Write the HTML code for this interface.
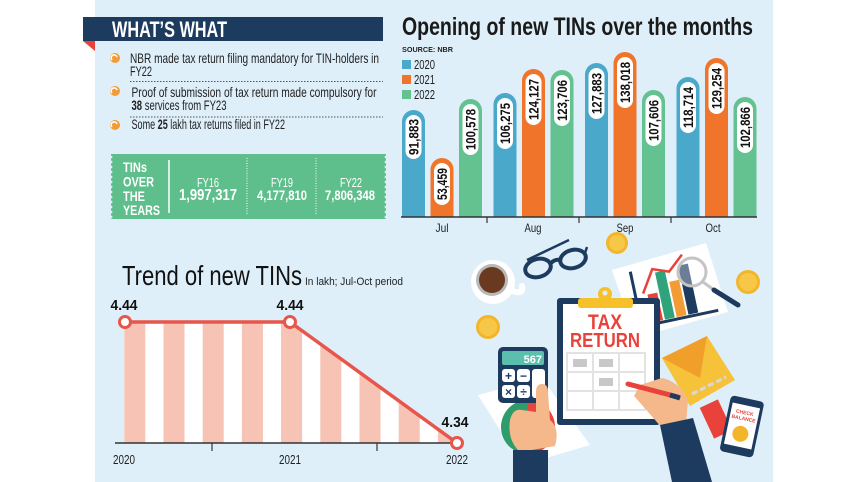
<!DOCTYPE html>
<html><head><meta charset="utf-8"><style>
html,body{margin:0;padding:0;background:#fff;}
svg{display:block;}
text{font-family:"Liberation Sans",sans-serif;}
</style></head><body>
<svg width="857" height="482" viewBox="0 0 857 482" xmlns="http://www.w3.org/2000/svg">
<rect x="0" y="0" width="857" height="482" fill="#fff"/>
<rect x="95" y="0" width="678" height="482" fill="#dfeffa"/>

<!-- WHAT'S WHAT header -->
<rect x="83" y="17" width="300" height="24" fill="#1d3a5f"/>
<polygon points="83,41 95,41 95,51" fill="#e8423b"/>
<text x="112" y="37" font-size="22" font-weight="bold" fill="#fff" textLength="115" lengthAdjust="spacingAndGlyphs">WHAT’S WHAT</text>

<!-- bullets -->
<g fill="#f39c34">
<circle cx="115" cy="58" r="5"/><circle cx="115" cy="91" r="5"/><circle cx="115" cy="125" r="5"/>
</g>
<g stroke="#fff" stroke-width="1.5" fill="none">
<path d="M112,60 a3,3 0 1 1 5,-3"/><path d="M112,93 a3,3 0 1 1 5,-3"/><path d="M112,127 a3,3 0 1 1 5,-3"/>
</g>
<g font-size="14" fill="#222">
<text x="130" y="63" textLength="249" lengthAdjust="spacingAndGlyphs">NBR made tax return filing mandatory for TIN-holders in</text>
<text x="130" y="76" textLength="22" lengthAdjust="spacingAndGlyphs">FY22</text>
<text x="131.5" y="97" textLength="245" lengthAdjust="spacingAndGlyphs">Proof of submission of tax return made compulsory for</text>
<text x="131.5" y="110" textLength="95" lengthAdjust="spacingAndGlyphs"><tspan font-weight="bold">38</tspan> services from FY23</text>
<text x="131.5" y="129" textLength="153.5" lengthAdjust="spacingAndGlyphs">Some <tspan font-weight="bold">25</tspan> lakh tax returns filed in FY22</text>
</g>
<g stroke="#555" stroke-width="1" stroke-dasharray="1.5,1.5">
<line x1="130" y1="81.5" x2="383" y2="81.5"/>
<line x1="130" y1="117" x2="383" y2="117"/>
</g>

<!-- TINs over the years box -->
<rect x="111" y="154" width="275" height="65" fill="#5fbf8c"/>
<g fill="#dfeffa">
<circle cx="111" cy="157" r="1.4"/><circle cx="111" cy="162" r="1.4"/><circle cx="111" cy="167" r="1.4"/><circle cx="111" cy="172" r="1.4"/><circle cx="111" cy="177" r="1.4"/><circle cx="111" cy="182" r="1.4"/><circle cx="111" cy="187" r="1.4"/><circle cx="111" cy="192" r="1.4"/><circle cx="111" cy="197" r="1.4"/><circle cx="111" cy="202" r="1.4"/><circle cx="111" cy="207" r="1.4"/><circle cx="111" cy="212" r="1.4"/><circle cx="111" cy="217" r="1.4"/>
<circle cx="386" cy="157" r="1.4"/><circle cx="386" cy="162" r="1.4"/><circle cx="386" cy="167" r="1.4"/><circle cx="386" cy="172" r="1.4"/><circle cx="386" cy="177" r="1.4"/><circle cx="386" cy="182" r="1.4"/><circle cx="386" cy="187" r="1.4"/><circle cx="386" cy="192" r="1.4"/><circle cx="386" cy="197" r="1.4"/><circle cx="386" cy="202" r="1.4"/><circle cx="386" cy="207" r="1.4"/><circle cx="386" cy="212" r="1.4"/><circle cx="386" cy="217" r="1.4"/>
</g>
<g font-size="13.5" font-weight="bold" fill="#fff">
<text x="123" y="172" textLength="24" lengthAdjust="spacingAndGlyphs">TINs</text>
<text x="123" y="186.5" textLength="31" lengthAdjust="spacingAndGlyphs">OVER</text>
<text x="123" y="201" textLength="22" lengthAdjust="spacingAndGlyphs">THE</text>
<text x="123" y="215" textLength="37" lengthAdjust="spacingAndGlyphs">YEARS</text>
</g>
<line x1="169" y1="160" x2="169" y2="213" stroke="#fff" stroke-width="1.5"/>
<g stroke="#fff" stroke-width="1" stroke-dasharray="1,1.5">
<line x1="247" y1="158" x2="247" y2="215"/><line x1="316" y1="158" x2="316" y2="215"/>
</g>
<g fill="#fff" text-anchor="middle">
<text x="208" y="187" font-size="13" textLength="22" lengthAdjust="spacingAndGlyphs">FY16</text>
<text x="282" y="187" font-size="13" textLength="22" lengthAdjust="spacingAndGlyphs">FY19</text>
<text x="351" y="187" font-size="13" textLength="22" lengthAdjust="spacingAndGlyphs">FY22</text>
<text x="208" y="200" font-size="16" font-weight="bold" textLength="58" lengthAdjust="spacingAndGlyphs">1,997,317</text>
<text x="282" y="200" font-size="14" font-weight="bold" textLength="50" lengthAdjust="spacingAndGlyphs">4,177,810</text>
<text x="350" y="200" font-size="14" font-weight="bold" textLength="50" lengthAdjust="spacingAndGlyphs">7,806,348</text>
</g>

<!-- Bar chart title -->
<text x="402" y="35" font-size="25" font-weight="bold" fill="#1a1a1a" textLength="351" lengthAdjust="spacingAndGlyphs">Opening of new TINs over the months</text>
<text x="402" y="52" font-size="7" font-weight="bold" fill="#222" textLength="51" lengthAdjust="spacingAndGlyphs">SOURCE: NBR</text>
<rect x="402" y="60" width="9" height="9" fill="#4aa9cb"/>
<rect x="402" y="75" width="9" height="9" fill="#f0752b"/>
<rect x="402" y="90" width="9" height="9" fill="#63c28f"/>
<g font-size="13" fill="#222">
<text x="414" y="69" textLength="21" lengthAdjust="spacingAndGlyphs">2020</text>
<text x="414" y="84" textLength="21" lengthAdjust="spacingAndGlyphs">2021</text>
<text x="414" y="99" textLength="21" lengthAdjust="spacingAndGlyphs">2022</text>
</g>

<!-- Bars -->
<g>
<path d="M402,217 V121.5 A11.5,11.5 0 0 1 425,121.5 V217 Z" fill="#4aa9cb"/>
<path d="M430.5,217 V169.5 A11.5,11.5 0 0 1 453.5,169.5 V217 Z" fill="#f0752b"/>
<path d="M459,217 V110.5 A11.5,11.5 0 0 1 482,110.5 V217 Z" fill="#63c28f"/>
<path d="M493.5,217 V104.5 A11.5,11.5 0 0 1 516.5,104.5 V217 Z" fill="#4aa9cb"/>
<path d="M522,217 V80.5 A11.5,11.5 0 0 1 545,80.5 V217 Z" fill="#f0752b"/>
<path d="M550.5,217 V81.5 A11.5,11.5 0 0 1 573.5,81.5 V217 Z" fill="#63c28f"/>
<path d="M585,217 V74.5 A11.5,11.5 0 0 1 608,74.5 V217 Z" fill="#4aa9cb"/>
<path d="M613.5,217 V63.5 A11.5,11.5 0 0 1 636.5,63.5 V217 Z" fill="#f0752b"/>
<path d="M642,217 V101.5 A11.5,11.5 0 0 1 665,101.5 V217 Z" fill="#63c28f"/>
<path d="M676.5,217 V88.5 A11.5,11.5 0 0 1 699.5,88.5 V217 Z" fill="#4aa9cb"/>
<path d="M705,217 V69.5 A11.5,11.5 0 0 1 728,69.5 V217 Z" fill="#f0752b"/>
<path d="M733.5,217 V108.5 A11.5,11.5 0 0 1 756.5,108.5 V217 Z" fill="#63c28f"/>
</g>
<g fill="#fff">
<rect x="405.5" y="115" width="16" height="44" rx="8"/>
<rect x="434" y="163" width="16" height="42" rx="8"/>
<rect x="462.5" y="104" width="16" height="51" rx="8"/>
<rect x="497" y="98" width="16" height="51" rx="8"/>
<rect x="525.5" y="74" width="16" height="51" rx="8"/>
<rect x="554" y="75" width="16" height="51" rx="8"/>
<rect x="588.5" y="68" width="16" height="51" rx="8"/>
<rect x="617" y="57" width="16" height="51" rx="8"/>
<rect x="645.5" y="95" width="16" height="51" rx="8"/>
<rect x="680" y="82" width="16" height="51" rx="8"/>
<rect x="708.5" y="63" width="16" height="51" rx="8"/>
<rect x="737" y="102" width="16" height="51" rx="8"/>
</g>
<g font-size="14" font-weight="bold" fill="#111" text-anchor="middle">
<text transform="translate(413.5,137) rotate(-90)" y="5" textLength="36" lengthAdjust="spacingAndGlyphs">91,883</text>
<text transform="translate(442,184) rotate(-90)" y="5" textLength="32" lengthAdjust="spacingAndGlyphs">53,459</text>
<text transform="translate(470.5,129.5) rotate(-90)" y="5" textLength="41" lengthAdjust="spacingAndGlyphs">100,578</text>
<text transform="translate(505,123.5) rotate(-90)" y="5" textLength="41" lengthAdjust="spacingAndGlyphs">106,275</text>
<text transform="translate(533.5,99.5) rotate(-90)" y="5" textLength="41" lengthAdjust="spacingAndGlyphs">124,127</text>
<text transform="translate(562,100.5) rotate(-90)" y="5" textLength="41" lengthAdjust="spacingAndGlyphs">123,706</text>
<text transform="translate(596.5,93.5) rotate(-90)" y="5" textLength="41" lengthAdjust="spacingAndGlyphs">127,883</text>
<text transform="translate(625,82.5) rotate(-90)" y="5" textLength="41" lengthAdjust="spacingAndGlyphs">138,018</text>
<text transform="translate(653.5,120.5) rotate(-90)" y="5" textLength="41" lengthAdjust="spacingAndGlyphs">107,606</text>
<text transform="translate(688,107.5) rotate(-90)" y="5" textLength="41" lengthAdjust="spacingAndGlyphs">118,714</text>
<text transform="translate(716.5,88.5) rotate(-90)" y="5" textLength="41" lengthAdjust="spacingAndGlyphs">129,254</text>
<text transform="translate(745,127.5) rotate(-90)" y="5" textLength="41" lengthAdjust="spacingAndGlyphs">102,866</text>
</g>
<line x1="401" y1="217" x2="757" y2="217" stroke="#333" stroke-width="1.5"/>
<g stroke="#333" stroke-width="1.2">
<line x1="487" y1="217" x2="487" y2="223"/><line x1="579" y1="217" x2="579" y2="223"/><line x1="671" y1="217" x2="671" y2="223"/>
</g>
<g font-size="12" fill="#222" text-anchor="middle">
<text x="442" y="232" textLength="13" lengthAdjust="spacingAndGlyphs">Jul</text>
<text x="533" y="232" textLength="17" lengthAdjust="spacingAndGlyphs">Aug</text>
<text x="625" y="232" textLength="17" lengthAdjust="spacingAndGlyphs">Sep</text>
<text x="713" y="232" textLength="15" lengthAdjust="spacingAndGlyphs">Oct</text>
</g>

<!-- Trend chart -->
<text x="122" y="285" font-size="28" fill="#111" textLength="180" lengthAdjust="spacingAndGlyphs">Trend of new TINs</text>
<text x="305" y="285" font-size="11" fill="#222" textLength="98" lengthAdjust="spacingAndGlyphs">In lakh; Jul-Oct period</text>
<defs><clipPath id="area"><polygon points="124,322 290,322 457,443 124,443"/></clipPath></defs>
<polygon points="124,322 290,322 457,443 124,443" fill="#fff"/>
<g clip-path="url(#area)" fill="#f6c3b4">
<rect x="124.3" y="300" width="21" height="150"/>
<rect x="163.5" y="300" width="21" height="150"/>
<rect x="202.7" y="300" width="21" height="150"/>
<rect x="241.9" y="300" width="21" height="150"/>
<rect x="281.1" y="300" width="21" height="150"/>
<rect x="320.3" y="300" width="21" height="150"/>
<rect x="359.5" y="300" width="21" height="150"/>
<rect x="398.7" y="300" width="21" height="150"/>
<rect x="437.9" y="300" width="21" height="150"/>
</g>
<line x1="115" y1="443" x2="457" y2="443" stroke="#333" stroke-width="1.5"/>
<g stroke="#333" stroke-width="1.2">
<line x1="212" y1="443" x2="212" y2="451"/><line x1="377" y1="443" x2="377" y2="451"/>
</g>
<polyline points="125,322 290,322 457,443" fill="none" stroke="#e8554a" stroke-width="3.5" stroke-linejoin="round"/>
<g fill="#fff" stroke="#e8554a" stroke-width="3">
<circle cx="125" cy="322" r="5.5"/><circle cx="290" cy="322" r="5.5"/><circle cx="457" cy="443" r="5.5"/>
</g>
<g font-size="15" font-weight="bold" fill="#111" text-anchor="middle">
<text x="124" y="310" textLength="27" lengthAdjust="spacingAndGlyphs">4.44</text>
<text x="290" y="310" textLength="27" lengthAdjust="spacingAndGlyphs">4.44</text>
<text x="455" y="427" textLength="27" lengthAdjust="spacingAndGlyphs">4.34</text>
</g>
<g font-size="13" fill="#222" text-anchor="middle">
<text x="124" y="464" textLength="22" lengthAdjust="spacingAndGlyphs">2020</text>
<text x="290" y="464" textLength="22" lengthAdjust="spacingAndGlyphs">2021</text>
<text x="457" y="464" textLength="22" lengthAdjust="spacingAndGlyphs">2022</text>
</g>

<!-- Illustration -->
<!-- coffee -->
<path d="M510,290 q14,6 12,-4" stroke="#fff" stroke-width="6" fill="none" stroke-linecap="round"/>
<circle cx="493" cy="282" r="22" fill="#fff"/>
<circle cx="492" cy="280" r="16" fill="#b8b8b8"/>
<circle cx="492" cy="280" r="13" fill="#6a3a20"/>
<!-- glasses -->
<g stroke="#1d3a5f" stroke-width="4" fill="none">
<ellipse cx="538" cy="268" rx="13" ry="9" transform="rotate(-15 538 268)"/>
<ellipse cx="573" cy="259" rx="13" ry="9" transform="rotate(-15 573 259)"/>
<path d="M551,263 q4,-4 9,-3"/>
</g>
<line x1="527" y1="260" x2="569" y2="240" stroke="#1d3a5f" stroke-width="2.5"/>
<line x1="585" y1="253" x2="587" y2="247" stroke="#1d3a5f" stroke-width="2.5"/>
<!-- coins -->
<g>
<circle cx="617" cy="243" r="11" fill="#f3b52a"/><circle cx="617" cy="243" r="8" fill="#f7c848"/>
<circle cx="748" cy="282" r="12" fill="#f3b52a"/><circle cx="748" cy="282" r="9" fill="#f7c848"/>
<circle cx="488" cy="327" r="12" fill="#f3b52a"/><circle cx="488" cy="327" r="9" fill="#f7c848"/>
</g>
<!-- chart paper -->
<polygon points="612,270 706,243 728,312 635,338" fill="#fff"/>
<g transform="rotate(-12 670 295)">
<path d="M636,264 V320 H714" stroke="#1d3a5f" stroke-width="3" fill="none"/>
<rect x="648" y="290" width="10" height="28" fill="#e8423b"/>
<rect x="660" y="270" width="10" height="48" fill="#2fa37a"/>
<rect x="672" y="282" width="10" height="36" fill="#f39c34"/>
<rect x="684" y="268" width="10" height="50" fill="#1d3a5f"/>
<polyline points="644,288 658,266 674,272 690,258" fill="none" stroke="#e8423b" stroke-width="2.5"/>
</g>
<circle cx="692" cy="272" r="14" fill="rgba(255,255,255,0.35)" stroke="#c4c4c4" stroke-width="3"/>
<line x1="703" y1="282" x2="714" y2="290" stroke="#c4c4c4" stroke-width="3"/>
<line x1="714" y1="290" x2="738" y2="305" stroke="#1d3a5f" stroke-width="5" stroke-linecap="round"/>
<!-- envelope -->
<polygon points="662,358 707,336 735,380 690,406" fill="#f6c23a"/>
<polygon points="662,358 707,336 700,378" fill="#f0a02a"/>
<line x1="692" y1="394" x2="726" y2="377" stroke="#d8d8d8" stroke-width="3" stroke-dasharray="6,3"/>
<!-- left paper, circle, calculator -->
<polygon points="478,395 542,378 590,445 522,465" fill="#fff"/>
<path d="M528,400 A27,27 0 0 0 528,454 Z" fill="#2f9c6c"/>
<path d="M528,400 A27,27 0 0 1 528,454 Z" fill="#e8453c"/>
<rect x="498" y="347" width="50" height="56" rx="5" fill="#1d3a5f"/>
<rect x="502" y="351" width="42" height="14" rx="2" fill="#5cbfae"/>
<text x="542" y="363" text-anchor="end" font-size="11" font-weight="bold" fill="#fff">567</text>
<g fill="#fff">
<rect x="502" y="369" width="13" height="13" rx="3"/><rect x="517" y="369" width="13" height="13" rx="3"/>
<rect x="502" y="385" width="13" height="13" rx="3"/><rect x="517" y="385" width="13" height="13" rx="3"/>
<rect x="532" y="369" width="13" height="29" rx="3"/>
</g>
<g font-size="12" font-weight="bold" fill="#1d3a5f" text-anchor="middle">
<text x="508.5" y="380">+</text><text x="523.5" y="380">−</text><text x="508.5" y="396">×</text><text x="523.5" y="396">÷</text>
</g>
<path d="M536,392 Q536,384 542,384 Q548,384 548,392 L550,420 Q560,428 555,446 L520,452 Q507,440 510,420 Q513,408 522,410 L536,412 Z" fill="#f4b88a"/>
<rect x="513" y="450" width="35" height="32" fill="#1d3a5f"/>
<!-- clipboard -->
<rect x="557" y="298" width="103" height="127" rx="3" fill="#1d3a5f"/>
<rect x="563" y="304" width="91" height="115" fill="#fff"/>
<rect x="578" y="298" width="55" height="10" rx="3" fill="#f5c02a"/>
<circle cx="605" cy="294" r="7" fill="#f5c02a"/>
<circle cx="605" cy="293" r="2.5" fill="#dfeffa"/>
<text x="605" y="329" text-anchor="middle" font-size="21" font-weight="bold" fill="#e8423b" textLength="34" lengthAdjust="spacingAndGlyphs">TAX</text>
<text x="605" y="347" text-anchor="middle" font-size="20" font-weight="bold" fill="#e8423b" textLength="70" lengthAdjust="spacingAndGlyphs">RETURN</text>
<g stroke="#e2e2e2" stroke-width="2" fill="none">
<rect x="567" y="353" width="78" height="57"/>
<line x1="593" y1="353" x2="593" y2="410"/><line x1="619" y1="353" x2="619" y2="410"/>
<line x1="567" y1="372" x2="645" y2="372"/><line x1="567" y1="391" x2="645" y2="391"/>
</g>
<g fill="#c8c8c8">
<rect x="573" y="359" width="14" height="8"/><rect x="599" y="359" width="14" height="8"/><rect x="599" y="378" width="14" height="8"/>
</g>
<!-- right hand and pen -->
<path d="M640,385 L662,378 Q680,382 688,400 L686,424 L662,428 Q650,414 634,396 Z" fill="#f4b88a"/>
<line x1="628" y1="384" x2="678" y2="397" stroke="#e8423b" stroke-width="5" stroke-linecap="round"/>
<line x1="670" y1="395" x2="680" y2="398" stroke="#1d3a5f" stroke-width="5"/>
<polygon points="660,425 693,418 712,482 672,482" fill="#1d3a5f"/>
<!-- red card and phone -->
<rect x="706" y="402" width="20" height="34" fill="#e8423b" transform="rotate(-25 716 419)"/>
<g transform="rotate(12 742 426)">
<rect x="725" y="398" width="34" height="57" rx="4" fill="#1d3a5f"/>
<rect x="728" y="405" width="28" height="42" fill="#fff"/>
<text x="742" y="414" text-anchor="middle" font-size="5" font-weight="bold" fill="#e8423b">CHECK</text>
<text x="742" y="420" text-anchor="middle" font-size="5" font-weight="bold" fill="#e8423b">BALANCE</text>
<circle cx="742" cy="434" r="8" fill="#f3b52a"/>
</g>
</svg>
</body></html>
